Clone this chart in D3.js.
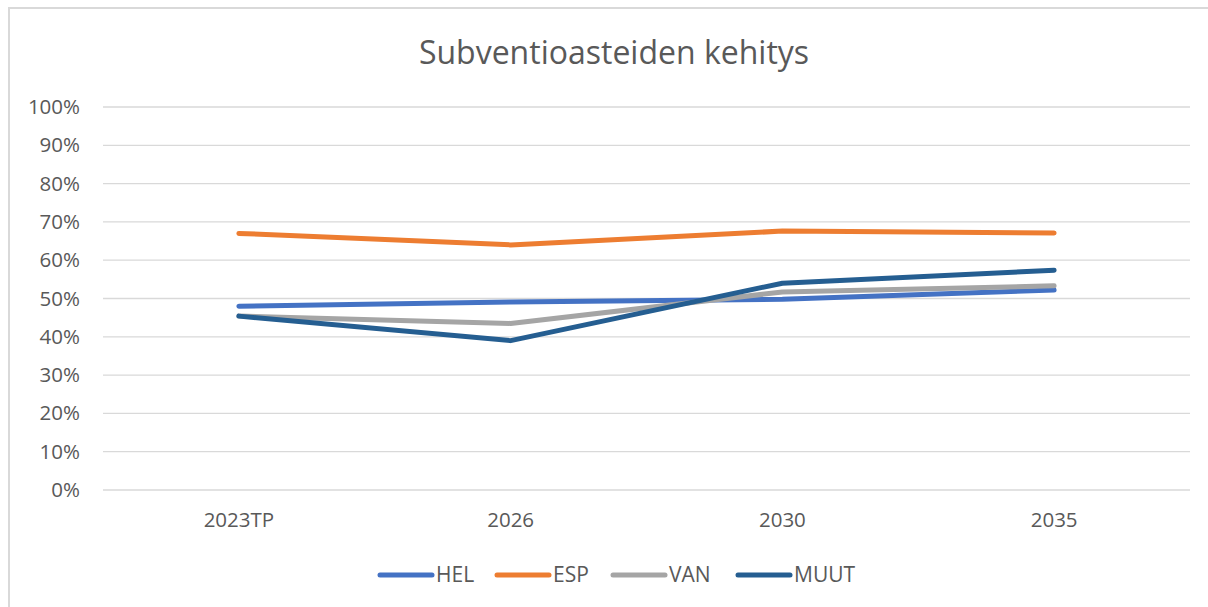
<!DOCTYPE html>
<meta charset="utf-8">
<style>
body { margin: 0; background: #fff; }
text { font-family: "Open Sans", sans-serif; fill: #595959; }
.grid line { stroke: #d9d9d9; stroke-width: 1.3; }
.axis text { font-size: 20.5px; }
</style>
<body>
<script src="https://cdn.jsdelivr.net/npm/d3@7"></script>
<script>

var categories = ["2023TP", "2026", "2030", "2035"];
var seriesNames = ["HEL", "ESP", "VAN", "MUUT"];
var hel  = [0.480, 0.491, 0.498, 0.522];
var esp  = [0.670, 0.640, 0.676, 0.671];
var van  = [0.454, 0.435, 0.517, 0.533];
var muut = [0.454, 0.390, 0.540, 0.574];
var yTicks = [0, 0.1, 0.2, 0.3, 0.4, 0.5, 0.6, 0.7, 0.8, 0.9, 1];
var colors = ["#4472c4", "#ed7d31", "#a5a5a5", "#255e91"];

var series = [hel, esp, van, muut].map(function(v, i) {
  return { name: seriesNames[i], values: v, color: colors[i] };
});

var width = 1208, height = 607;
var margin = { left: 103, right: 18, top: 107, bottom: 117 };

var svg = d3.select("body").append("svg")
    .attr("width", width)
    .attr("height", height);

// chart frame (cut off at right and bottom)
svg.append("rect")
    .attr("x", 9).attr("y", 8)
    .attr("width", width + 10).attr("height", height + 10)
    .attr("fill", "#fff")
    .attr("stroke", "#d9d9d9")
    .attr("stroke-width", 2);

svg.append("text")
    .attr("x", 614).attr("y", 64)
    .attr("text-anchor", "middle")
    .style("font-size", "32px")
    .text("Subventioasteiden kehitys");

var x = d3.scaleBand()
    .domain(categories)
    .range([margin.left, width - margin.right]);

var y = d3.scaleLinear()
    .domain([0, 1])
    .range([height - margin.bottom, margin.top]);

// gridlines
svg.append("g")
    .attr("class", "grid")
  .selectAll("line")
    .data(yTicks)
  .enter().append("line")
    .attr("x1", margin.left)
    .attr("x2", width - margin.right)
    .attr("y1", function(d) { return y(d); })
    .attr("y2", function(d) { return y(d); });

// y axis
var yAxis = svg.append("g")
    .attr("class", "axis")
    .attr("transform", "translate(" + (margin.left - 23) + ",0)")
    .call(d3.axisLeft(y).tickValues(yTicks).tickFormat(d3.format(".0%")).tickSize(0).tickPadding(0));
yAxis.select(".domain").remove();

// x axis
var xAxis = svg.append("g")
    .attr("class", "axis")
    .attr("transform", "translate(0," + (height - margin.bottom) + ")")
    .call(d3.axisBottom(x).tickSize(0).tickPadding(22));
xAxis.select(".domain").remove();

var line = d3.line()
    .x(function(d, i) { return x(categories[i]) + x.bandwidth() / 2; })
    .y(function(d) { return y(d); });

svg.append("g").selectAll("path")
    .data(series)
  .enter().append("path")
    .attr("d", function(d) { return line(d.values); })
    .attr("fill", "none")
    .attr("stroke", function(d) { return d.color; })
    .attr("stroke-width", 5)
    .attr("stroke-linecap", "round")
    .attr("stroke-linejoin", "round");

// legend
var legendX = [380, 497, 613, 738];
var legend = svg.append("g").selectAll("g")
    .data(series)
  .enter().append("g")
    .attr("transform", function(d, i) { return "translate(" + legendX[i] + ",575)"; });

legend.append("line")
    .attr("x1", 0).attr("x2", 52)
    .attr("stroke", function(d) { return d.color; })
    .attr("stroke-width", 5)
    .attr("stroke-linecap", "round");

legend.append("text")
    .attr("x", 56).attr("dy", "0.35em")
    .style("font-size", "21px")
    .text(function(d) { return d.name; });

</script>
</body>
